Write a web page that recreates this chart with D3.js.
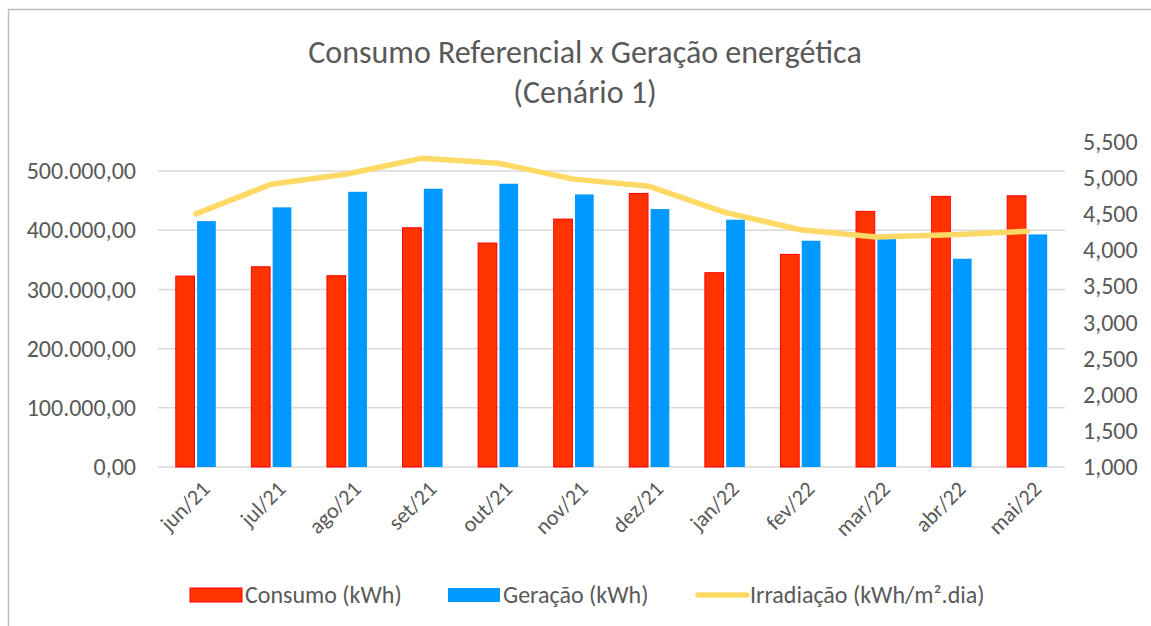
<!DOCTYPE html>
<html>
<head>
<meta charset="utf-8">
<script src="https://cdn.jsdelivr.net/npm/d3@7"></script>
<style>
  body { margin: 0; background: #fff; }
  svg text { font-family: Carlito, Calibri, Lato, sans-serif; fill: #595959; }
</style>
</head>
<body>
<svg id="drawing_region"></svg>
<script>
// month labels
const months = ["jun/21","jul/21","ago/21","set/21","out/21","nov/21","dez/21","jan/22","fev/22","mar/22","abr/22","mai/22"];
// bar series (kWh)
const consumo = [322600, 338300, 323200, 404200, 378400, 418900, 462300, 328300, 359300, 431900, 457300, 458300];
const geracao = [415500, 438700, 465000, 470100, 478600, 460600, 435800, 417800, 382300, 387000, 351900, 393000];
// line series (kWh/m².dia)
const irradiacao = [4.50, 4.91, 5.05, 5.27, 5.20, 4.98, 4.88, 4.52, 4.28, 4.18, 4.21, 4.26];
// tick labels
const leftTicks = [0, 100000, 200000, 300000, 400000, 500000];
const rightTicks = [1, 1.5, 2, 2.5, 3, 3.5, 4, 4.5, 5, 5.5];

const config = {
    width: 1151,
    height: 626,
    plot: {left: 158, right: 1065, top: 141.5, bottom: 467}
};

const svg = d3.select('#drawing_region')
    .attr('width', config.width)
    .attr('height', config.height);

// outer frame
svg.append('rect')
    .attr('x', 8.5).attr('y', 9.5)
    .attr('width', 1160).attr('height', 640)
    .attr('fill', 'none')
    .attr('stroke', '#bfbfbf')
    .attr('stroke-width', 1.5);

// title
const title = svg.append('text')
    .attr('text-anchor', 'middle')
    .attr('font-size', 32);
title.append('tspan').attr('x', 585).attr('y', 63).text('Consumo Referencial x Geração energética');
title.append('tspan').attr('x', 585).attr('y', 103).text('(Cenário 1)');

const p = config.plot;

const xscale = d3.scaleBand()
    .domain(months)
    .range([p.left, p.right])
    .padding(0);

const x1 = d3.scaleBand()
    .domain(['consumo', 'geracao'])
    .range([-20, 20])
    .paddingInner(0.12);

const yleft = d3.scaleLinear()
    .domain([0, 550000])
    .range([p.bottom, p.top]);

const yright = d3.scaleLinear()
    .domain([1, 5.5])
    .range([p.bottom, p.top]);

// gridlines
svg.append('g')
    .selectAll('line')
    .data(leftTicks)
    .enter()
    .append('line')
    .attr('x1', p.left).attr('x2', p.right)
    .attr('y1', d => yleft(d)).attr('y2', d => yleft(d))
    .attr('stroke', '#d9d9d9')
    .attr('stroke-width', 1.5);

// left axis  (pt-BR style: 500.000,00)
const fmtLeft = d => d3.format(',.2f')(d).replace(/,/g, 'X').replace('.', ',').replace(/X/g, '.');
const yaxisL = d3.axisLeft(yleft).tickValues(leftTicks).tickSize(0).tickPadding(22).tickFormat(fmtLeft);
svg.append('g')
    .attr('transform', `translate(${p.left}, 0)`)
    .call(yaxisL)
    .call(g => g.select('.domain').remove())
    .selectAll('text')
    .attr('font-size', 24)
    .attr('fill', '#595959');

// right axis  (5,500)
const fmtRight = d => d3.format('.3f')(d).replace('.', ',');
const yaxisR = d3.axisRight(yright).tickValues(rightTicks).tickSize(0).tickPadding(18).tickFormat(fmtRight);
svg.append('g')
    .attr('transform', `translate(${p.right}, 0)`)
    .call(yaxisR)
    .call(g => g.select('.domain').remove())
    .selectAll('text')
    .attr('font-size', 24)
    .attr('fill', '#595959');

// x axis labels
const xaxis = d3.axisBottom(xscale).tickSize(0).tickPadding(0);
svg.append('g')
    .attr('transform', `translate(0, ${p.bottom})`)
    .call(xaxis)
    .call(g => g.select('.domain').remove())
    .selectAll('text')
    .attr('font-size', 22)
    .attr('fill', '#595959')
    .attr('text-anchor', 'end')
    .attr('dy', '0.35em')
    .attr('transform', 'translate(10, 18) rotate(-45)');

// bars
const groups = svg.append('g')
    .selectAll('g')
    .data(months)
    .enter()
    .append('g')
    .attr('transform', d => `translate(${xscale(d) + xscale.bandwidth() / 2}, 0)`);

groups.append('rect')
    .attr('x', x1('consumo'))
    .attr('width', x1.bandwidth())
    .attr('y', (d, i) => yleft(consumo[i]))
    .attr('height', (d, i) => yleft(0) - yleft(consumo[i]))
    .attr('fill', '#ff3300')
    .attr('stroke', '#ff0000')
    .attr('stroke-width', 1);

groups.append('rect')
    .attr('x', x1('geracao'))
    .attr('width', x1.bandwidth())
    .attr('y', (d, i) => yleft(geracao[i]))
    .attr('height', (d, i) => yleft(0) - yleft(geracao[i]))
    .attr('fill', '#0099ff');

// line
const line = d3.line()
    .x((d, i) => xscale(months[i]) + xscale.bandwidth() / 2)
    .y(d => yright(d));

svg.append('path')
    .attr('d', line(irradiacao))
    .attr('fill', 'none')
    .attr('stroke', '#ffd966')
    .attr('stroke-width', 5.5)
    .attr('stroke-linejoin', 'round')
    .attr('stroke-linecap', 'round');

// legend
const legend = svg.append('g').attr('transform', 'translate(0, 595)');
const legendItems = [
    {label: 'Consumo (kWh)', x: 190, type: 'bar', fill: '#ff3300', stroke: '#ff0000'},
    {label: 'Geração (kWh)', x: 448, type: 'bar', fill: '#0099ff', stroke: 'none'},
    {label: 'Irradiação (kWh/m².dia)', x: 695, type: 'line', fill: '#ffd966'}
];
legendItems.forEach(it => {
    if (it.type === 'bar') {
        legend.append('rect')
            .attr('x', it.x).attr('y', -7)
            .attr('width', 52).attr('height', 14)
            .attr('fill', it.fill)
            .attr('stroke', it.stroke);
    } else {
        legend.append('line')
            .attr('x1', it.x + 3).attr('x2', it.x + 52)
            .attr('y1', 0).attr('y2', 0)
            .attr('stroke', it.fill)
            .attr('stroke-width', 5.5)
            .attr('stroke-linecap', 'round');
    }
    legend.append('text')
        .attr('x', it.x + 55)
        .attr('y', 0)
        .attr('dy', '0.35em')
        .attr('font-size', 24)
        .text(it.label);
});
</script>
</body>
</html>
